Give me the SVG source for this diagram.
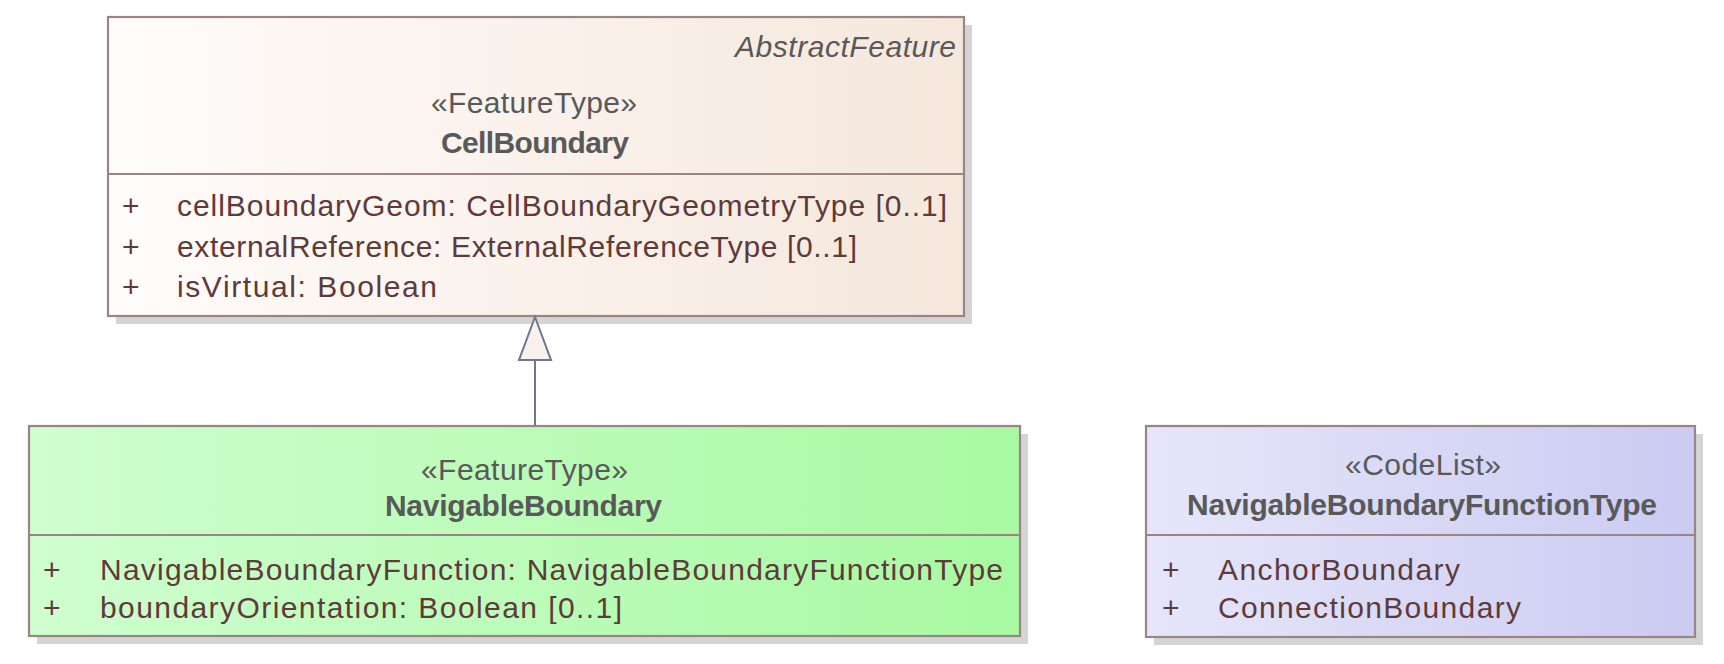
<svg xmlns="http://www.w3.org/2000/svg" width="1724" height="664" viewBox="0 0 1724 664">
<style>
.box{stroke:#9A8584;stroke-width:2.2}
.shadow{fill:#D4D4D4}
.div{stroke:#9A8584;stroke-width:2.2}
text{font-family:"Liberation Sans",Arial,sans-serif;font-size:30px}
.st{fill:#595959}
.nm{fill:#595959;font-weight:bold;font-size:30px}
.ab{fill:#595959;font-style:italic}
.at{fill:#5E3A3A}
.conn{stroke:#6B7693;stroke-width:2;fill:none}
</style>
<defs>
<linearGradient id="gPeach" x1="0" y1="0" x2="1" y2="0">
<stop offset="0" stop-color="#FFFCFA"/>
<stop offset="1" stop-color="#F5E7DC"/>
</linearGradient>
<linearGradient id="gGreen" x1="0" y1="0" x2="1" y2="0">
<stop offset="0" stop-color="#CFFECF"/>
<stop offset="1" stop-color="#A8F9A2"/>
</linearGradient>
<linearGradient id="gBlue" x1="0" y1="0" x2="1" y2="0">
<stop offset="0" stop-color="#E6E6FA"/>
<stop offset="1" stop-color="#CBCBF2"/>
</linearGradient>
</defs>
<rect width="1724" height="664" fill="#FFFFFF"/>

<g id="CellBoundary">
<rect class="shadow" x="116" y="25" width="856" height="299"/>
<rect class="box" x="108" y="17" width="856" height="299" fill="url(#gPeach)"/>
<line class="div" x1="108" y1="174" x2="964" y2="174"/>
<text class="ab" x="735" y="57" textLength="221">AbstractFeature</text>
<text class="st" x="431" y="113" textLength="206">«FeatureType»</text>
<text class="nm" x="441" y="153" textLength="188">CellBoundary</text>
<text class="at" x="122" y="216">+</text>
<text class="at" x="177" y="216" textLength="770">cellBoundaryGeom: CellBoundaryGeometryType [0..1]</text>
<text class="at" x="122" y="257">+</text>
<text class="at" x="177" y="257" textLength="680">externalReference: ExternalReferenceType [0..1]</text>
<text class="at" x="122" y="297">+</text>
<text class="at" x="177" y="297" textLength="260">isVirtual: Boolean</text>
</g>

<g id="NavigableBoundary">
<rect class="shadow" x="37" y="434" width="991" height="210"/>
<rect class="box" x="29" y="426" width="991" height="210" fill="url(#gGreen)"/>
<line class="div" x1="29" y1="535" x2="1020" y2="535"/>
<text class="st" x="421" y="480" textLength="207">«FeatureType»</text>
<text class="nm" x="385" y="516" textLength="277">NavigableBoundary</text>
<text class="at" x="43" y="580">+</text>
<text class="at" x="100" y="580" textLength="903">NavigableBoundaryFunction: NavigableBoundaryFunctionType</text>
<text class="at" x="43" y="618">+</text>
<text class="at" x="100" y="618" textLength="522">boundaryOrientation: Boolean [0..1]</text>
</g>

<g id="NavigableBoundaryFunctionType">
<rect class="shadow" x="1154" y="434" width="549" height="211"/>
<rect class="box" x="1146" y="426" width="549" height="211" fill="url(#gBlue)"/>
<line class="div" x1="1146" y1="535" x2="1695" y2="535"/>
<text class="st" x="1345" y="475" textLength="156">«CodeList»</text>
<text class="nm" x="1187" y="515" textLength="470">NavigableBoundaryFunctionType</text>
<text class="at" x="1162" y="580">+</text>
<text class="at" x="1218" y="580" textLength="242">AnchorBoundary</text>
<text class="at" x="1162" y="618">+</text>
<text class="at" x="1218" y="618" textLength="303">ConnectionBoundary</text>
</g>

<g id="connectors">
<line class="conn" x1="535" y1="360" x2="535" y2="426"/>
<polygon class="conn" points="535,317 519,360 551,360" style="fill:#F9F1EC"/>
</g>
</svg>
